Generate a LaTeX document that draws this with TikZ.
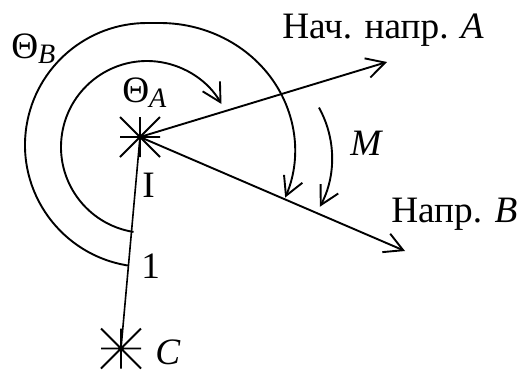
\documentclass[tikz,border=0pt]{standalone}
\usepackage{fontspec}
\setmainfont{Liberation Serif}
\usetikzlibrary{arrows.meta,calc}
\newcommand\lowidx[1]{\raisebox{-1.4mm}{\fontsize{20}{22}\selectfont\itshape #1}}
\tikzset{
  vecarrow/.style={-{Straight Barb[length=4.6mm,width=5mm]},line width=1.35pt},
  turnarrow/.style={-{Straight Barb[length=4.6mm,width=5mm]},line width=1.35pt},
  thinline/.style={line width=1.15pt},
  lbl/.style={inner sep=0pt,anchor=base west,font=\fontsize{26.5}{30}\selectfont},
  pics/asterisk/.style={code={
    \draw[line width=1.3pt] (-20,0) -- (20,0) (0,-20) -- (0,20) (-20,-20) -- (20,20) (-20,20) -- (20,-20);}},
}
\begin{document}
\begin{tikzpicture}[x=0.25mm,y=0.25mm]
\useasboundingbox (0,0) rectangle (517,373);
\coordinate (I) at (140,236);
\coordinate (C) at (121,24.5);
\coordinate (tipA) at (387,311);
\coordinate (tipB) at (405,122);
\pic at (I) {asterisk};
\pic at (C) {asterisk};
\draw[thinline] (I) -- (C);
\draw[vecarrow] (I) -- (tipA);
\draw[vecarrow] (I) -- (tipB);
% angles
\draw[turnarrow] ($(147,226)+(261:86)$) arc[start angle=261,end angle=30,radius=86];
\draw[turnarrow] ($(147,228)+(261:122)$) arc[start angle=261,end angle=90,radius=122]
  -- ++(13,0) arc[start angle=90,end angle=-22,x radius=135,y radius=127];
\draw[turnarrow] ($(228,215)+(29:104)$) arc[start angle=29,end angle=-28,radius=104];
\node[lbl] (nameA) at (282,335) {Нач. напр. \textit{A}};
\node[lbl] (nameB) at (391,151) {Напр. \textit{B}};
\node[lbl] (mom) at (350,218) {\textit{M}};
\node[lbl] (thB) at (11,315) {Θ\lowidx{B}};
\node[lbl] (thA) at (122,271) {Θ\lowidx{A}};
\node[lbl] (one) at (142,176) {I};
\node[lbl] (two) at (141,95) {1};
\node[lbl] (labC) at (155,9) {\textit{C}};
\end{tikzpicture}
\end{document}
